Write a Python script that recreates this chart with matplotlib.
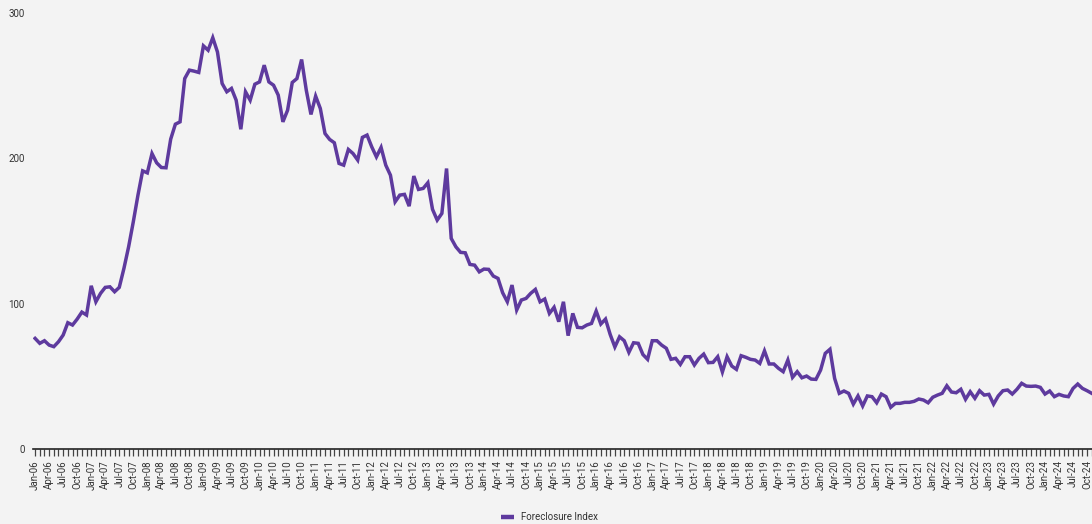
from matplotlib import pyplot as plt
from matplotlib.lines import Line2D
import pandas as pd

plt.rcParams['font.family'] = ['Roboto', 'DejaVu Sans']

# monthly index, Jan-06 .. Nov-24
months = pd.date_range('2006-01-01', periods=227, freq='MS')
index = [76.1, 72.7, 74.5, 71.5, 70.4, 73.8, 78.4, 86.9, 85.3, 89.4, 94.2, 92.2,
         112.3, 101.3, 107.1, 111.2, 111.6, 108.2, 111.2, 124.3, 139.1, 156.3, 174.7, 191.4,
         190.0, 203.3, 196.9, 193.7, 193.5, 213.2, 223.5, 225.1, 254.9, 260.7, 260.0, 259.1,
         277.4, 274.4, 283.0, 273.2, 251.5, 245.8, 248.1, 240.0, 220.0, 245.8, 240.0, 251.0,
         252.6, 264.1, 252.6, 250.3, 243.5, 225.1, 233.1, 252.2, 254.9, 268.0, 246.9, 230.2,
         242.8, 234.3, 217.1, 213.0, 210.7, 196.5, 195.3, 206.1, 203.3, 198.8, 214.4, 216.0,
         207.9, 201.0, 207.5, 195.3, 188.4, 170.1, 174.7, 175.2, 167.1, 187.8, 178.6, 179.3,
         183.2, 164.9, 157.5, 162.1, 193.0, 144.9, 139.1, 135.3, 135.0, 127.0, 126.5, 121.9,
         123.8, 123.6, 119.0, 117.4, 107.5, 101.3, 112.8, 95.6, 102.5, 103.6, 107.1, 109.8,
         101.3, 103.2, 93.3, 97.5, 87.6, 101.3, 78.0, 93.3, 83.7, 83.4, 85.3, 86.4,
         94.9, 86.0, 89.4, 78.8, 70.2, 77.2, 74.5, 66.5, 73.1, 72.7, 65.0, 61.7,
         74.5, 74.5, 71.5, 69.3, 61.7, 62.4, 58.2, 63.5, 63.5, 57.8, 62.4, 65.3,
         59.4, 59.6, 63.5, 53.0, 63.5, 57.1, 54.8, 64.2, 63.1, 61.7, 61.2, 58.9,
         67.5, 58.5, 58.5, 55.5, 53.2, 61.2, 49.3, 53.2, 49.0, 50.2, 48.1, 47.9,
         54.3, 65.8, 68.6, 48.6, 38.3, 39.9, 38.3, 30.9, 36.5, 29.6, 36.5, 36.0,
         31.8, 37.8, 36.0, 28.7, 31.4, 31.4, 32.1, 32.1, 32.8, 34.4, 33.7, 31.8,
         35.6, 37.1, 38.3, 43.5, 39.2, 38.7, 41.1, 34.2, 39.4, 34.9, 40.1, 37.1,
         37.6, 30.9, 36.5, 40.1, 40.6, 37.8, 41.1, 45.2, 43.3, 43.1, 43.3, 42.4,
         37.8, 39.9, 36.0, 37.6, 36.5, 36.0, 41.7, 44.7, 41.7, 40.1, 38.3]
labels = [m.strftime('%b-%y') for m in months]
yticks = [0, 100, 200, 300]

bg = '#f3f3f3'
purple = '#5e3a9e'
txt = '#333333'

fig = plt.figure(figsize=(10.92, 5.24), dpi=100, facecolor=bg)
ax = fig.add_axes([33/1092, 75/524, 1 - 33/1092, 436/524], facecolor=bg)

x = list(range(len(index)))
ax.plot(x, index, color=purple, lw=2.5, solid_joinstyle='miter')

ax.set_xlim(-0.45, 226.05)
ax.set_ylim(0, 300)
ax.set_yticks(yticks)
ax.set_yticklabels([str(v) for v in yticks], fontsize=7, color=txt)
ax.tick_params(axis='y', length=0, pad=6)

ax.set_xticks(x, minor=True)
ax.set_xticks(x[::3])
ax.set_xticklabels(labels[::3], rotation=90, fontsize=7, color=txt)
ax.tick_params(axis='x', which='both', direction='out', length=5, width=0.9,
               color='#444444', pad=3)

for s in ['top', 'right', 'left']:
    ax.spines[s].set_visible(False)
ax.spines['bottom'].set_color('#222222')
ax.spines['bottom'].set_linewidth(1.2)

h = Line2D([0], [0], color=purple, lw=3.2, solid_capstyle='butt')
fig.legend([h], ['Foreclosure Index'], loc='center', bbox_to_anchor=(0.503, 0.013),
           frameon=False, fontsize=7, handlelength=1.4, handletextpad=0.7,
           labelcolor=txt)

fig.savefig('out.png', dpi=100, facecolor=bg)
